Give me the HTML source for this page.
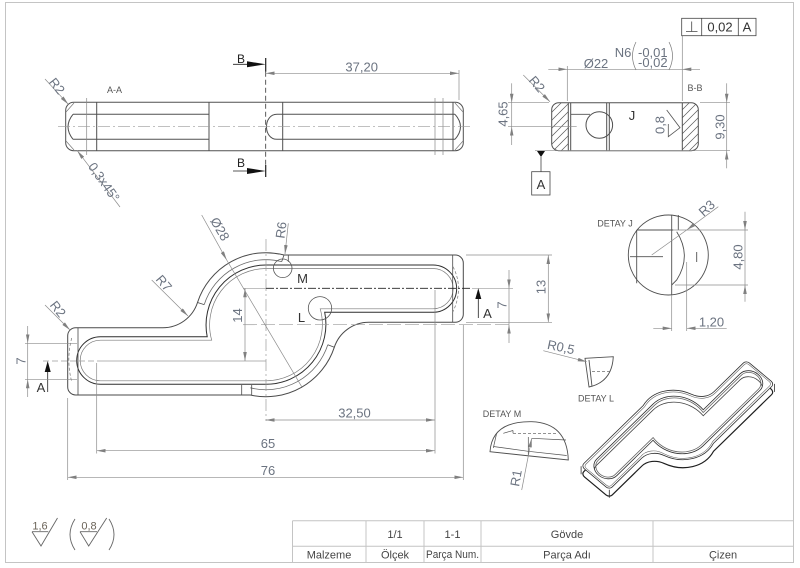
<!DOCTYPE html>
<html><head><meta charset="utf-8"><style>
html,body{margin:0;padding:0;background:#fff;}
svg{display:block;}
text{font-family:"Liberation Sans",sans-serif;}
.tx{fill:#6b7380;font-size:13px;}
.lb{fill:#555;font-size:9px;}
.tb{fill:#444;font-size:11px;}
</style></head><body>
<svg width="800" height="568" viewBox="0 0 800 568" xmlns="http://www.w3.org/2000/svg">
<defs>
<marker id="a" viewBox="0 0 10 4" refX="10" refY="2" markerWidth="9" markerHeight="3.6" markerUnits="userSpaceOnUse" orient="auto-start-reverse"><path d="M0,0 L10,2 L0,4 z" fill="#808080"/></marker>
<pattern id="h" patternUnits="userSpaceOnUse" width="8" height="8"><path d="M-1,9 L9,-1 M-1,1 L1,-1 M7,9 L9,7" stroke="#555" stroke-width="0.7"/></pattern>
<path id="outer" vector-effect="non-scaling-stroke" d="M75.7,327.7 L162.9,327.7 A36.4,36.4 0 0 0 197.5,302.5 A72,72 0 0 1 284,255 L455.3,255 A8,8 0 0 1 463.3,263 L463.3,314.3 A8,8 0 0 1 455.3,322.3 L368.9,322.3 A36.4,36.4 0 0 0 334.3,347.3 A72,72 0 0 1 250.4,395 L75.7,395 A8,8 0 0 1 67.7,387 L67.7,335.7 A8,8 0 0 1 75.7,327.7 Z"/>
<path id="rim" vector-effect="non-scaling-stroke" d="M78,331 L163,331 A33,33 0 0 0 200,305 A68.5,68.5 0 0 1 286,258.5 L453,258.5 Q460,258.5 460,265 L460,312 Q460,319 453,319 L369,319 A39.5,39.5 0 0 0 331,345 A68.5,68.5 0 0 1 250,391.5 L78,391.5 Q71,391.5 71,385 L71,338 Q71,331 78,331 Z"/>
<path id="pocket" vector-effect="non-scaling-stroke" d="M207.2,336.7 L100.5,336.7 A23.8,23.8 0 0 0 100.5,384.3 L266,384.3 A60,60 0 0 0 324.7,312.3 L433,312.3 A23.65,23.65 0 0 0 433,265 L266,265 A60,60 0 0 0 207.2,336.7 Z"/>
<path id="floor" vector-effect="non-scaling-stroke" d="M211.7,340.2 L100.5,340.2 A20.3,20.3 0 0 0 100.5,380.8 L266,380.8 A56.5,56.5 0 0 0 320.2,308.8 L433,308.8 A20.15,20.15 0 0 0 433,268.5 L266,268.5 A56.5,56.5 0 0 0 211.7,340.2 Z"/>
<clipPath id="pk"><use href="#pocket"/></clipPath>
</defs>

<!-- frame -->
<rect x="5.5" y="2.5" width="788" height="560" fill="none" stroke="#c4c4c4" stroke-width="1"/>

<!-- ================= TOP VIEW A-A ================= -->
<g fill="none" stroke="#505050" stroke-width="1">
<rect x="65.7" y="102.3" width="397.6" height="48.4" rx="8"/>
<path d="M73,114.3 L209,114.3 M73,139.3 L209,139.3 M277,114.3 L455,114.3 M277,139.3 L455,139.3"/>
<path d="M96.7,102.3 V150.7 M209,102.3 V150.7 M282.7,102.3 V150.7 M453,102.3 V150.7"/>
<path d="M73,114.3 Q63,126.7 73,139.3 M455,114.3 Q466,126.7 455,139.3"/>
<path d="M277,114.3 C263,114.3 263,139.3 277,139.3"/>
<path d="M66,112 L74,103 M66,141 L74,150 M463,112 L455,103 M463,141 L455,150" stroke="#777" stroke-width="0.7"/>
</g>
<path d="M86.7,98 V155 M435,98 V155 M443,98 V155" stroke="#888" stroke-width="0.7"/>
<line x1="58" y1="126.7" x2="473" y2="126.7" stroke="#9a9a9a" stroke-width="0.7" stroke-dasharray="12 3 2 3"/>
<!-- section B line -->
<path d="M265.7,58 V71.7 M265.7,165 V177" stroke="#222" stroke-width="1.2"/>
<line x1="265.7" y1="71.7" x2="265.7" y2="165" stroke="#333" stroke-width="0.8" stroke-dasharray="5 3"/>
<path d="M233,64.3 H247 M233,171 H247" stroke="#222" stroke-width="0.8"/>
<polygon points="247,61.3 265.7,64.3 247,67.3" fill="#111"/>
<polygon points="247,168 265.7,171 247,174" fill="#111"/>
<text x="241" y="63" font-size="12" fill="#222" text-anchor="middle">B</text>
<text x="241" y="167" font-size="12" fill="#222" text-anchor="middle">B</text>
<!-- 37,20 -->
<path d="M459,70 V100" stroke="#8c8c8c" stroke-width="0.7"/>
<line x1="265.7" y1="73.3" x2="459" y2="73.3" stroke="#8c8c8c" stroke-width="0.7" marker-start="url(#a)" marker-end="url(#a)"/>
<text class="tx" x="361.7" y="71.5" text-anchor="middle">37,20</text>
<text class="lb" x="114.5" y="93" text-anchor="middle" font-size="8.5">A-A</text>
<!-- R2 / chamfer leaders -->
<line x1="45" y1="79" x2="68.3" y2="104.3" stroke="#8c8c8c" stroke-width="0.7" marker-end="url(#a)"/>
<text class="tx" transform="translate(57,86) rotate(52)" text-anchor="middle" dy=".35em" font-size="12">R2</text>
<line x1="120" y1="207" x2="77.3" y2="150.7" stroke="#8c8c8c" stroke-width="0.7" marker-end="url(#a)"/>
<text class="tx" transform="translate(104,182) rotate(55)" text-anchor="middle" dy=".35em" font-size="12">0,3x45°</text>

<!-- ================= SECTION B-B ================= -->
<path d="M558.7,102.7 L568.3,102.7 L568.3,150.7 L558.7,150.7 A7,7 0 0 1 551.7,143.7 L551.7,109.7 A7,7 0 0 1 558.7,102.7Z" fill="url(#h)"/>
<path d="M682.3,102.7 L691.3,102.7 A7,7 0 0 1 698.3,109.7 L698.3,143.7 A7,7 0 0 1 691.3,150.7 L682.3,150.7Z" fill="url(#h)"/>
<g fill="none" stroke="#505050" stroke-width="1">
<rect x="551.7" y="102.7" width="146.6" height="48" rx="7"/>
<path d="M568.3,102.7 V150.7 M570.7,102.7 V150.7 M606.7,102.7 V150.7 M609.3,102.7 V150.7 M682.3,102.7 V150.7"/>
<circle cx="599.3" cy="125" r="13.3"/>
<path d="M570.7,114.3 H590" stroke-width="0.8"/>
</g>
<text x="632" y="120" font-size="13" fill="#333" text-anchor="middle">J</text>
<path d="M666.7,110 L680,127.7 L668.3,136.7 L668.3,124" fill="none" stroke="#555" stroke-width="0.8"/>
<text class="tx" transform="translate(660,125) rotate(-90)" text-anchor="middle" dy=".35em" font-size="12">0,8</text>
<text class="lb" x="695" y="91" text-anchor="middle" font-size="8.5">B-B</text>
<!-- 4,65 -->
<g stroke="#8c8c8c" stroke-width="0.7" fill="none">
<path d="M508,102.7 H549 M508,126.7 H576.7 M700,102.7 H730 M535,150.7 H730"/>
<line x1="511.7" y1="83.3" x2="511.7" y2="102.7" marker-end="url(#a)"/>
<line x1="511.7" y1="145" x2="511.7" y2="126.7" marker-end="url(#a)"/>
<line x1="511.7" y1="102.7" x2="511.7" y2="126.7"/>
<line x1="726.7" y1="83.3" x2="726.7" y2="102.7" marker-end="url(#a)"/>
<line x1="726.7" y1="168.3" x2="726.7" y2="150.7" marker-end="url(#a)"/>
<line x1="726.7" y1="102.7" x2="726.7" y2="150.7"/>
<path d="M567.3,66 V101 M682.3,35.7 V101"/>
<line x1="548.3" y1="69.3" x2="567.3" y2="69.3" marker-end="url(#a)"/>
<line x1="700" y1="69.3" x2="682.3" y2="69.3" marker-end="url(#a)"/>
<line x1="567.3" y1="69.3" x2="682.3" y2="69.3"/>
<line x1="523.3" y1="75" x2="550" y2="101.7" marker-end="url(#a)"/>
<path d="M636,42 Q629,56 636,70 M669,42 Q676,56 669,70" stroke="#777"/>
</g>
<text class="tx" transform="translate(503,114) rotate(-90)" text-anchor="middle" dy=".35em" font-size="12">4,65</text>
<text class="tx" transform="translate(720,127) rotate(-90)" text-anchor="middle" dy=".35em" font-size="12">9,30</text>
<text class="tx" transform="translate(537,84) rotate(50)" text-anchor="middle" dy=".35em" font-size="12">R2</text>
<text class="tx" x="596" y="68" text-anchor="middle" font-size="13">Ø22</text>
<text class="tx" x="623" y="57" text-anchor="middle" font-size="12">N6</text>
<text class="tx" x="638" y="57" font-size="12">-0,01</text>
<text class="tx" x="638" y="67" font-size="12">-0,02</text>
<!-- FCF -->
<g fill="none" stroke="#444" stroke-width="0.8">
<rect x="681.7" y="18.3" width="74.3" height="17.4"/>
<path d="M701.7,18.3 V35.7 M738.3,18.3 V35.7 M691.7,21.5 V31.5 M686,31.5 H697.5"/>
</g>
<text x="720" y="31.5" font-size="13" fill="#333" text-anchor="middle">0,02</text>
<text x="747" y="31.5" font-size="13" fill="#333" text-anchor="middle">A</text>
<!-- datum A -->
<polygon points="537,151 545,151 541,157" fill="#111"/>
<line x1="541" y1="157" x2="541" y2="171.7" stroke="#444" stroke-width="0.8"/>
<rect x="531.7" y="171.7" width="18.3" height="23.3" fill="none" stroke="#444" stroke-width="0.8"/>
<text x="541" y="189" font-size="13" fill="#333" text-anchor="middle">A</text>

<!-- ================= MAIN VIEW ================= -->
<g fill="none" stroke="#4a4a4a" stroke-width="1">
<use href="#outer"/>
<use href="#pocket" stroke="#2e2e2e"/>
<use href="#floor" stroke="#7a7a7a" stroke-width="0.7"/>
<path d="M204.2,304.6 A65,65 0 0 1 281.7,261.6 M327.8,344.8 A65,65 0 0 1 250.3,387.8" stroke="#6a6a6a" stroke-width="0.8"/>
<path d="M197.5,302.5 L204.2,304.6 M334.3,347.3 L327.8,344.8 M281.7,261.6 L284,255 M288.3,255 V261.7 M241.7,385 V395 M251.7,385 V395 M78,327.7 V395 M452.7,255 V322.3" stroke-width="0.8"/>
<path d="M71.7,338 Q66,360 71.7,381.7 M453,266.7 Q464,288 453,311.7" stroke="#777" stroke-width="0.7" stroke-dasharray="3 2"/>
<circle cx="282.7" cy="268.3" r="9.3" stroke="#555" stroke-width="0.8"/>
<circle cx="320" cy="308.3" r="11.7" stroke="#555" stroke-width="0.8"/>
</g>
<!-- center / section lines -->
<g fill="none" stroke-width="0.7">
<line x1="266" y1="239" x2="266" y2="421" stroke="#9a9a9a" stroke-dasharray="12 3 2 3"/>
<line x1="243" y1="324.7" x2="513" y2="324.7" stroke="#9a9a9a" stroke-dasharray="14 4"/>
<line x1="243" y1="288.3" x2="266" y2="288.3" stroke="#9a9a9a"/>
<line x1="266" y1="288.3" x2="472" y2="288.3" stroke="#222" stroke-width="0.9" stroke-dasharray="8 2 2 2"/>
<line x1="472" y1="288.3" x2="513" y2="288.3" stroke="#9a9a9a"/>
<line x1="43" y1="361" x2="97" y2="361" stroke="#9a9a9a" stroke-dasharray="6 3"/>
<line x1="97" y1="361" x2="266" y2="361" stroke="#9a9a9a"/>
</g>
<!-- section arrows A -->
<line x1="47.7" y1="372" x2="47.7" y2="392" stroke="#222" stroke-width="0.8"/>
<polygon points="44.7,372 47.7,361 50.7,372" fill="#111"/>
<text x="41" y="392" font-size="13" fill="#333" text-anchor="middle">A</text>
<line x1="478.3" y1="299" x2="478.3" y2="318" stroke="#222" stroke-width="0.8"/>
<polygon points="475.3,299 478.3,288.3 481.3,299" fill="#111"/>
<text x="487.5" y="318" font-size="13" fill="#333" text-anchor="middle">A</text>
<text x="302.5" y="283" font-size="13" fill="#333" text-anchor="middle">M</text>
<text x="301.5" y="322" font-size="13" fill="#333" text-anchor="middle">L</text>
<!-- dims main -->
<g stroke="#8c8c8c" stroke-width="0.7" fill="none">
<path d="M67.7,398 V480 M463.3,325 V480 M96.7,363 V453.5 M435,290 V453.5"/>
<line x1="265.7" y1="420" x2="435" y2="420" marker-start="url(#a)" marker-end="url(#a)"/>
<line x1="96.7" y1="450.7" x2="435" y2="450.7" marker-start="url(#a)" marker-end="url(#a)"/>
<line x1="67.7" y1="477.3" x2="463.3" y2="477.3" marker-start="url(#a)" marker-end="url(#a)"/>
<line x1="245" y1="288.3" x2="245" y2="361" marker-start="url(#a)" marker-end="url(#a)"/>
<path d="M25,343.3 H77 M25,379.3 H77"/>
<line x1="27.7" y1="326" x2="27.7" y2="343.3" marker-end="url(#a)"/>
<line x1="27.7" y1="397" x2="27.7" y2="379.3" marker-end="url(#a)"/>
<line x1="27.7" y1="343.3" x2="27.7" y2="379.3"/>
<line x1="509" y1="270" x2="509" y2="288.3" marker-end="url(#a)"/>
<line x1="509" y1="343" x2="509" y2="324.7" marker-end="url(#a)"/>
<line x1="509" y1="288.3" x2="509" y2="324.7"/>
<path d="M466,255 H552 M466,322.3 H552"/>
<line x1="548.3" y1="255" x2="548.3" y2="322.3" marker-start="url(#a)" marker-end="url(#a)"/>
<line x1="45" y1="305" x2="70" y2="330" marker-end="url(#a)"/>
<line x1="151.7" y1="280" x2="188" y2="316" marker-end="url(#a)"/>
<line x1="201.7" y1="215" x2="226.7" y2="260" marker-end="url(#a)"/>
<line x1="226.7" y1="260" x2="301.7" y2="386.7"/>
<line x1="288.3" y1="223.3" x2="285" y2="254" marker-end="url(#a)"/>
</g>
<text class="tx" x="354.5" y="417.5" text-anchor="middle">32,50</text>
<text class="tx" x="268" y="448" text-anchor="middle">65</text>
<text class="tx" x="268" y="475" text-anchor="middle">76</text>
<text class="tx" transform="translate(237.5,315.5) rotate(-90)" text-anchor="middle" dy=".35em">14</text>
<text class="tx" transform="translate(21,361) rotate(-90)" text-anchor="middle" dy=".35em">7</text>
<text class="tx" transform="translate(502,305) rotate(-90)" text-anchor="middle" dy=".35em">7</text>
<text class="tx" transform="translate(541,287) rotate(-90)" text-anchor="middle" dy=".35em">13</text>
<text class="tx" transform="translate(58,309) rotate(52)" text-anchor="middle" dy=".35em" font-size="12">R2</text>
<text class="tx" transform="translate(164,283) rotate(50)" text-anchor="middle" dy=".35em" font-size="12">R7</text>
<text class="tx" transform="translate(220,229) rotate(60)" text-anchor="middle" dy=".35em" font-size="12">Ø28</text>
<text class="tx" transform="translate(281,230) rotate(-82)" text-anchor="middle" dy=".35em" font-size="12">R6</text>

<!-- ================= DETAY J ================= -->
<g fill="none" stroke="#505050" stroke-width="0.9">
<circle cx="668.3" cy="255" r="40"/>
<path d="M636.7,230 H673.3 M636.7,230 V283.3 M671.7,215 V295 M678.3,215 V230 M630,256.7 H663 M696.7,252 V262"/>
<path d="M676.7,231.7 Q692,256 676.7,280 L671.7,285"/>
</g>
<g stroke="#8c8c8c" stroke-width="0.7" fill="none">
<line x1="718.3" y1="206.7" x2="686.7" y2="230" marker-end="url(#a)"/>
<line x1="686.7" y1="230" x2="651.7" y2="255"/>
<path d="M673.3,230 H748 M675,285 H748 M671.7,295 V331 M686.7,262 V331"/>
<line x1="745" y1="211.7" x2="745" y2="230" marker-end="url(#a)"/>
<line x1="745" y1="301.7" x2="745" y2="285" marker-end="url(#a)"/>
<line x1="745" y1="230" x2="745" y2="285"/>
<line x1="653.3" y1="328.3" x2="671.7" y2="328.3" marker-end="url(#a)"/>
<line x1="726.7" y1="328.3" x2="686.7" y2="328.3" marker-end="url(#a)"/>
</g>
<text class="lb" x="615" y="226.5" text-anchor="middle" font-size="9.5">DETAY J</text>
<text class="tx" transform="translate(706.7,208) rotate(-42)" text-anchor="middle" dy=".35em" font-size="12">R3</text>
<text class="tx" transform="translate(738,257) rotate(-90)" text-anchor="middle" dy=".35em">4,80</text>
<text class="tx" x="711.5" y="326.5" text-anchor="middle">1,20</text>

<!-- ================= DETAY L ================= -->
<g fill="none" stroke="#505050" stroke-width="0.9">
<path d="M585,358.3 L613.3,356.7 Q612,382 589,387 Z"/>
<path d="M589,360 L592,386.5"/>
<path d="M592,371.7 H612" stroke-dasharray="3 2" stroke-width="0.7"/>
</g>
<line x1="543.3" y1="350.7" x2="586.7" y2="361.7" stroke="#8c8c8c" stroke-width="0.7" marker-end="url(#a)"/>
<text class="tx" transform="translate(561,347) rotate(12)" text-anchor="middle" dy=".35em" font-size="12">R0,5</text>
<text class="lb" x="596" y="401.5" text-anchor="middle" font-size="9.5">DETAY L</text>

<!-- ================= DETAY M ================= -->
<g fill="none" stroke="#505050" stroke-width="0.9">
<path d="M490,451.7 Q492,421 531.7,421.7 Q567,423 568.3,460 L530,456 Z"/>
<path d="M493.3,446.5 L528.3,451.3 L566.7,455.5 M503.3,433.3 L513,430.5 M531.7,438.3 L566,440 M528.3,437 V456 M496.7,433 L493.3,448 M513,430.5 V433.3" stroke-width="0.7"/>
<path d="M513,433.3 H556.7" stroke-dasharray="3 2" stroke-width="0.7"/>
</g>
<line x1="521.7" y1="490" x2="531.7" y2="438.3" stroke="#8c8c8c" stroke-width="0.7" marker-end="url(#a)"/>
<text class="lb" x="502" y="417" text-anchor="middle" font-size="9.5">DETAY M</text>
<text class="tx" transform="translate(516,478) rotate(-80)" text-anchor="middle" dy=".35em" font-size="12">R1</text>

<!-- ================= ISOMETRIC ================= -->
<g transform="matrix(0.34,-0.332,-0.42,-0.35,724,626.9)" stroke="#2e2e2e" stroke-width="0.8" fill="#fff">
<use href="#outer" transform="translate(-13,-10.53)" stroke="#1e1e1e" stroke-width="1.2"/>
<use href="#outer"/>
<use href="#rim" fill="none" stroke="#666" stroke-width="0.6"/>
<use href="#pocket"/>
<g clip-path="url(#pk)" fill="none"><use href="#pocket" transform="translate(-9.75,-7.9)" stroke="#444"/></g>
<use href="#floor" fill="none" stroke="#666"/>
</g>
<path d="M581.1,466.2 V474.2 M609.3,489.8 V497.8 M774.4,383.9 V391.9" stroke="#2e2e2e" stroke-width="0.8"/>

<!-- ================= SURFACE SYMBOLS ================= -->
<g fill="none" stroke="#666" stroke-width="0.9">
<path d="M32,531.7 H48.3 M32,531.7 L41,546 L57.5,518"/>
<path d="M80,531.7 H97 M80,531.7 L88.7,546 L106.7,518"/>
<path d="M75,519 Q65,534.5 75,550 M109,519 Q119,534.5 109,550"/>
</g>
<text x="40" y="529.5" font-size="11" fill="#6b6358" text-anchor="middle">1,6</text>
<text x="89" y="529.5" font-size="11" fill="#6b6358" text-anchor="middle">0,8</text>

<!-- ================= TITLE BLOCK ================= -->
<g fill="none" stroke="#c4c4c4" stroke-width="1">
<path d="M292.5,520.7 H793.5 M292.5,546.2 H793.5 M292.5,520.7 V562.5 M366,520.7 V562.5 M424,520.7 V562.5 M481,520.7 V562.5 M653,520.7 V562.5"/>
</g>
<text class="tb" x="395" y="538" text-anchor="middle">1/1</text>
<text class="tb" x="452.5" y="538" text-anchor="middle" font-size="9.5">1-1</text>
<text class="tb" x="567" y="538" text-anchor="middle">Gövde</text>
<text class="tb" x="329" y="558.5" text-anchor="middle">Malzeme</text>
<text class="tb" x="395" y="558.5" text-anchor="middle">Ölçek</text>
<text class="tb" x="452.5" y="558" text-anchor="middle" font-size="8.5" textLength="53" lengthAdjust="spacingAndGlyphs">Parça Num.</text>
<text class="tb" x="567" y="558.5" text-anchor="middle">Parça Adı</text>
<text class="tb" x="723" y="558.5" text-anchor="middle">Çizen</text>
</svg>
</body></html>
